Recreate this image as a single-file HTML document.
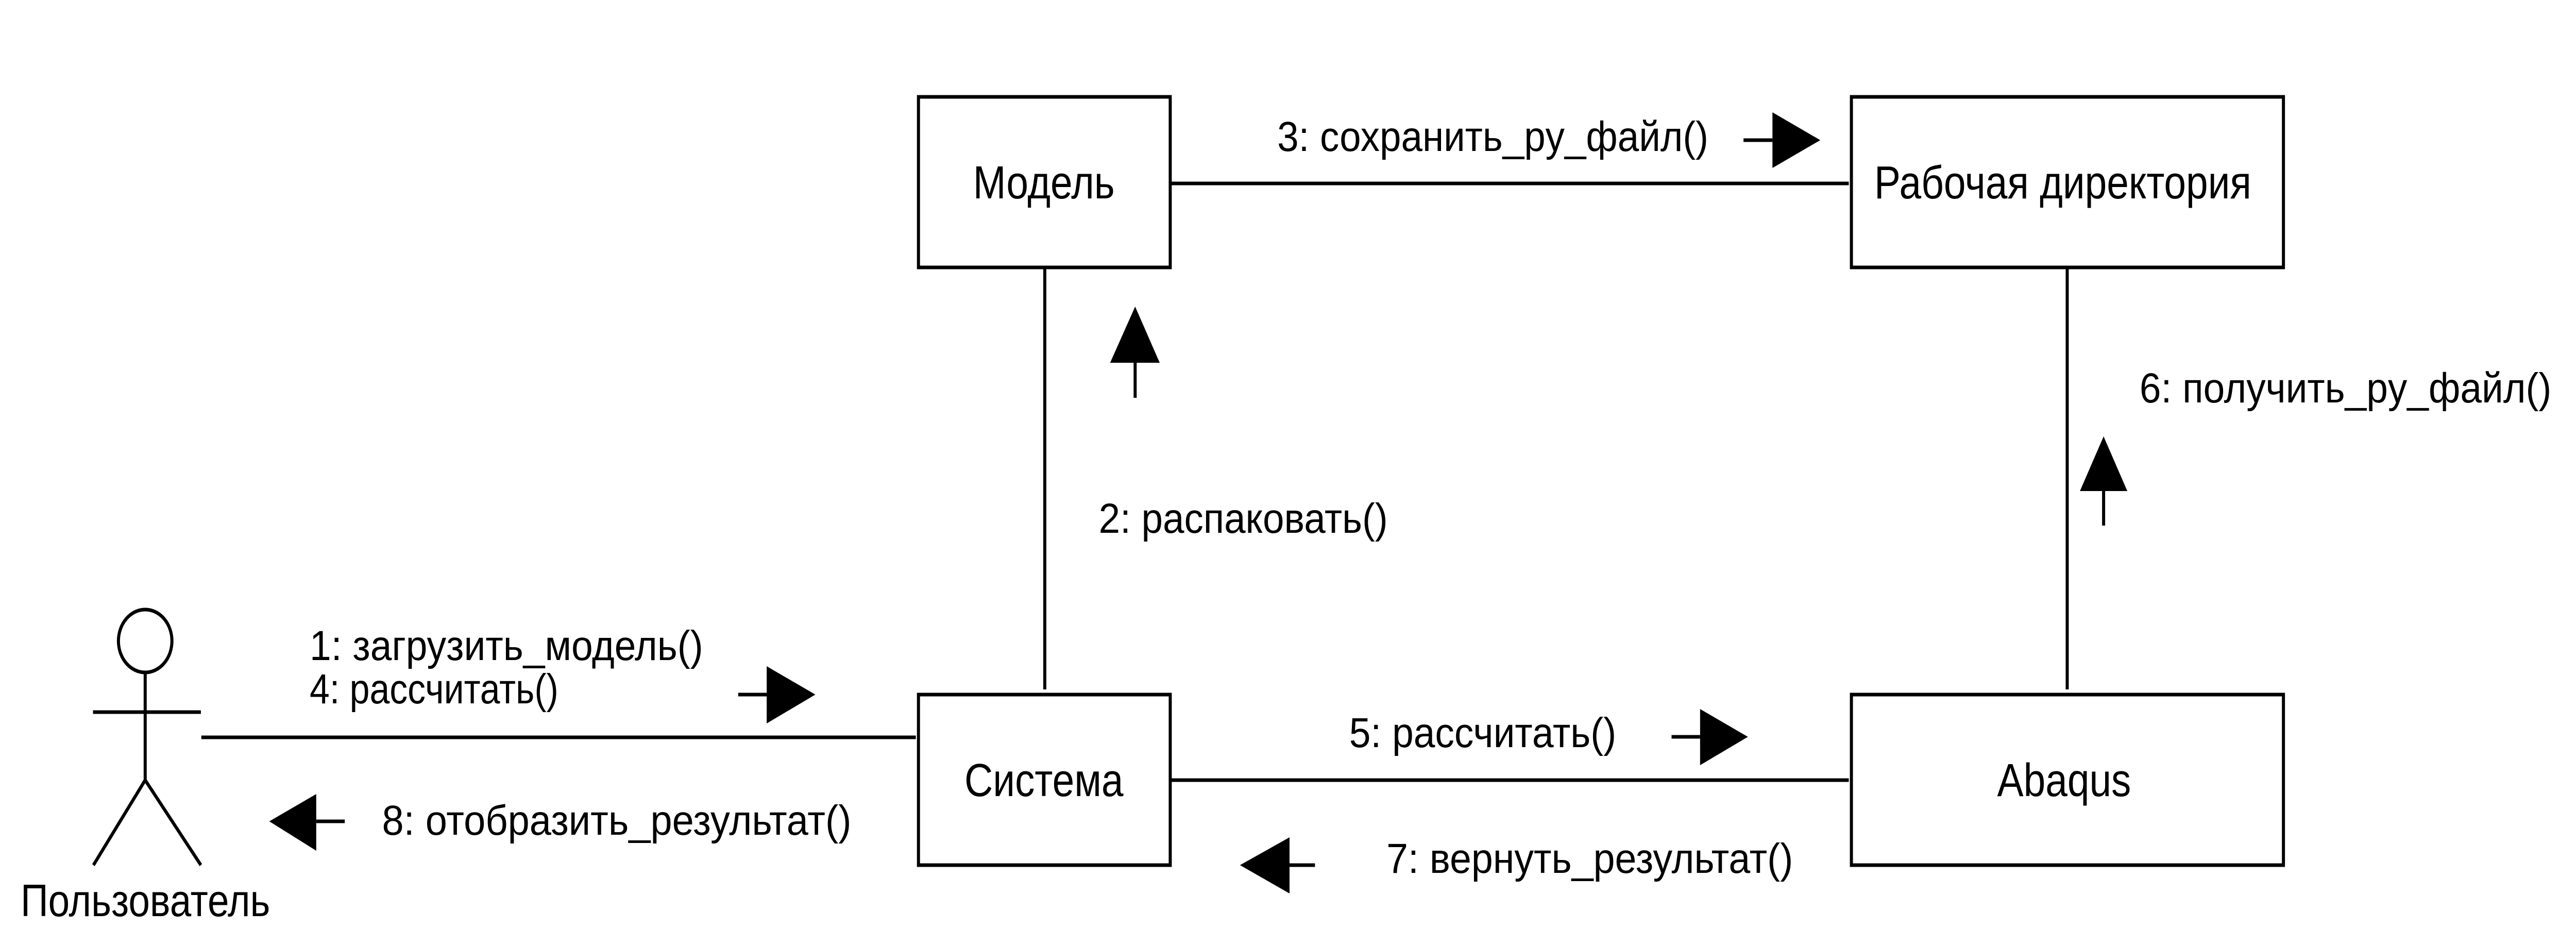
<!DOCTYPE html>
<html><head><meta charset="utf-8"><style>
html,body{margin:0;padding:0;background:#fff;width:100%;height:100%;overflow:hidden;}
svg{display:block;position:absolute;left:0;top:0;width:100vw;height:100vh;}
text{font-family:"Liberation Sans",Arial,sans-serif;fill:#000;}
</style></head><body>
<svg viewBox="0 0 5873 1801" preserveAspectRatio="none" xmlns="http://www.w3.org/2000/svg">
<rect width="5873" height="1801" fill="#fff"/>
<g stroke="#000" stroke-width="7" fill="none">
  <rect x="2094" y="188" width="574" height="331"/>
  <rect x="4221" y="188" width="985" height="331"/>
  <rect x="2094" y="1348" width="574" height="331"/>
  <rect x="4221" y="1348" width="985" height="331"/>
  <line x1="2668" y1="356" x2="4215" y2="356"/>
  <line x1="2382" y1="519" x2="2382" y2="1338"/>
  <line x1="4713" y1="519" x2="4713" y2="1338"/>
  <line x1="2668" y1="1514" x2="4215" y2="1514"/>
  <line x1="459" y1="1431" x2="2088" y2="1431"/>
  <circle cx="331" cy="1244" r="61"/>
  <line x1="331" y1="1306" x2="331" y2="1514"/>
  <line x1="212" y1="1382" x2="458" y2="1382"/>
  <line x1="331" y1="1514" x2="213" y2="1679"/>
  <line x1="331" y1="1514" x2="458" y2="1679"/>
  <line x1="1683" y1="1348" x2="1750" y2="1348"/>
  <line x1="721" y1="1594" x2="786" y2="1594"/>
  <line x1="3975" y1="272" x2="4041" y2="272"/>
  <line x1="2588" y1="704" x2="2588" y2="772"/>
  <line x1="4796" y1="953" x2="4796" y2="1020"/>
  <line x1="3811" y1="1430" x2="3876" y2="1430"/>
  <line x1="2940" y1="1679" x2="2998" y2="1679"/>
</g>
<g fill="#000">
  <polygon points="1748,1293 1859,1348 1748,1404"/>
  <polygon points="614,1594 721,1541 721,1651"/>
  <polygon points="4041,218 4150,272 4041,326"/>
  <polygon points="2588,595 2531,704 2644,704"/>
  <polygon points="4796,847 4742,953 4850,953"/>
  <polygon points="3876,1376 3985,1430 3876,1485"/>
  <polygon points="2827,1679 2940,1625 2940,1734"/>
</g>
<g font-size="90" text-anchor="middle">
  <text x="2380" y="385">Модель</text>
  <text x="4703" y="385">Рабочая директория</text>
  <text x="2380" y="1545">Система</text>
  <text x="4706" y="1545">Abaqus</text>
</g>
<g font-size="82">
  <text x="47" y="1778" font-size="88" textLength="569" lengthAdjust="spacingAndGlyphs">Пользователь</text>
  <text x="706" y="1281" textLength="897" lengthAdjust="spacingAndGlyphs">1: загрузить_модель()</text>
  <text x="706" y="1365">4: рассчитать()</text>
  <text x="871" y="1620" textLength="1070" lengthAdjust="spacingAndGlyphs">8: отобразить_результат()</text>
  <text x="2912" y="293" textLength="983" lengthAdjust="spacingAndGlyphs">3: сохранить_py_файл()</text>
  <text x="2505" y="1034" textLength="659" lengthAdjust="spacingAndGlyphs">2: распаковать()</text>
  <text x="4878" y="781" textLength="939" lengthAdjust="spacingAndGlyphs">6: получить_py_файл()</text>
  <text x="3076" y="1450" textLength="609" lengthAdjust="spacingAndGlyphs">5: рассчитать()</text>
  <text x="3161" y="1694" textLength="927" lengthAdjust="spacingAndGlyphs">7: вернуть_результат()</text>
</g>
</svg>
</body></html>
